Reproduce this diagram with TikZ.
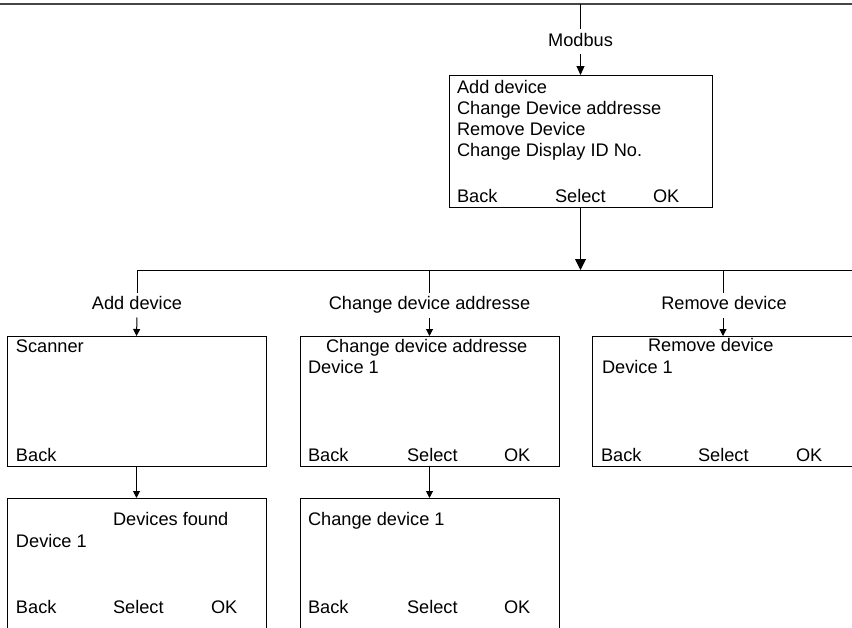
\documentclass[tikz,border=0pt]{standalone}
\usepackage{fontspec}
\setmainfont{Liberation Sans}
\usetikzlibrary{arrows.meta}
\tikzset{
  box/.style={draw=black, line width=1pt, rectangle, inner sep=0pt, outer sep=0pt},
  txt/.style={anchor=base west, inner sep=0pt, outer sep=0pt},
  lbl/.style={inner sep=4pt, outer sep=0pt, text height=13pt, text depth=4pt},
  conn/.style={draw=black, line width=1pt},
  arr/.style={conn, -{Triangle[width=7pt,length=7pt]}},
  modarr/.style={conn, -{Triangle[width=8pt,length=9pt]}},
  bigarr/.style={conn, -{Triangle[width=11pt,length=11pt]}},
}
\begin{document}
\begin{tikzpicture}[x=1pt, y=-1pt, font=\fontsize{18.2}{21}\selectfont]
\useasboundingbox (0,0) rectangle (852,627);
\clip (0,0) rectangle (852,627);

% top frame line
\coordinate (fl) at (-5,3.5);
\coordinate (fr) at (860,3.5);
\draw[line width=2pt, gray!55!black] (fl) -- (fr);

% Modbus entry
\coordinate (mtop) at (580.5,3.5);
\node[lbl] (modbus) at (580.5,41.5) {Modbus};

% top menu box
\node[box, minimum width=263pt, minimum height=132pt] (top) at (580.5,141) {};
\node[txt] (t1) at (457,93.5) {Add device};
\node[txt] (t2) at (457,114.5) {Change Device addresse};
\node[txt] (t3) at (457,135.5) {Remove Device};
\node[txt] (t4) at (457,156.5) {Change Display ID No.};
\node[txt] (t5) at (457,202.5) {Back};
\node[txt] (t6) at (555,202.5) {Select};
\node[txt] (t7) at (653,202.5) {OK};

\draw[conn] (mtop) -- (modbus.north);
\draw[modarr] (modbus.south) -- (top.north);

% distribution line
\coordinate (jm) at (580.5,270);
\coordinate (j1) at (137,270);
\coordinate (j2) at (429.5,270);
\coordinate (j3) at (722.5,270);
\coordinate (jr) at (870,270);
\draw[bigarr] (top.south) -- (jm);
\draw[conn] (j1) -- (jr);

% branch labels
\node[lbl] (l1) at (137,305) {Add device};
\node[lbl] (l2) at (429.5,305) {Change device addresse};
\node[lbl] (l3) at (724,305) {Remove device};

% second row boxes
\node[box, minimum width=259pt, minimum height=130pt] (b1) at (136.5,401) {};
\node[box, minimum width=259pt, minimum height=130pt] (b2) at (429.5,401) {};
\node[box, minimum width=262pt, minimum height=130pt] (b3) at (723,401) {};

\draw[conn] (j1) -- (l1.north);
\draw[arr] (l1.south) -- (b1.north);
\draw[conn] (j2) -- (l2.north);
\draw[arr] (l2.south) -- (b2.north);
\draw[conn] (j3 -| b3.north) -- (l3.north -| b3.north);
\draw[arr] (l3.south -| b3.north) -- (b3.north);

% b1 texts
\node[txt] (s1) at (16,352.5) {Scanner};
\node[txt] (s2) at (16,461.5) {Back};
% b2 texts
\node[txt] (c1) at (326,352.5) {Change device addresse};
\node[txt] (c2) at (308,373.5) {Device 1};
\node[txt] (c3) at (308,461.5) {Back};
\node[txt] (c4) at (407,461.5) {Select};
\node[txt] (c5) at (504,461.5) {OK};
% b3 texts
\node[txt] (r1) at (648,351.5) {Remove device};
\node[txt] (r2) at (602,373.5) {Device 1};
\node[txt] (r3) at (601,461.5) {Back};
\node[txt] (r4) at (698,461.5) {Select};
\node[txt] (r5) at (796,461.5) {OK};

% third row boxes
\node[box, minimum width=259pt, minimum height=150pt] (b4) at (136.5,573) {};
\node[box, minimum width=259pt, minimum height=150pt] (b5) at (429.5,573) {};
\draw[arr] (b1.south) -- (b4.north);
\draw[arr] (b2.south) -- (b5.north);

% b4 texts
\node[txt] (d1) at (113,525.5) {Devices found};
\node[txt] (d2) at (16,547.5) {Device 1};
\node[txt] (d3) at (16,613.5) {Back};
\node[txt] (d4) at (113,613.5) {Select};
\node[txt] (d5) at (211,613.5) {OK};
% b5 texts
\node[txt] (e1) at (308,525.5) {Change device 1};
\node[txt] (e2) at (308,613.5) {Back};
\node[txt] (e3) at (407,613.5) {Select};
\node[txt] (e4) at (504,613.5) {OK};
\end{tikzpicture}
\end{document}
